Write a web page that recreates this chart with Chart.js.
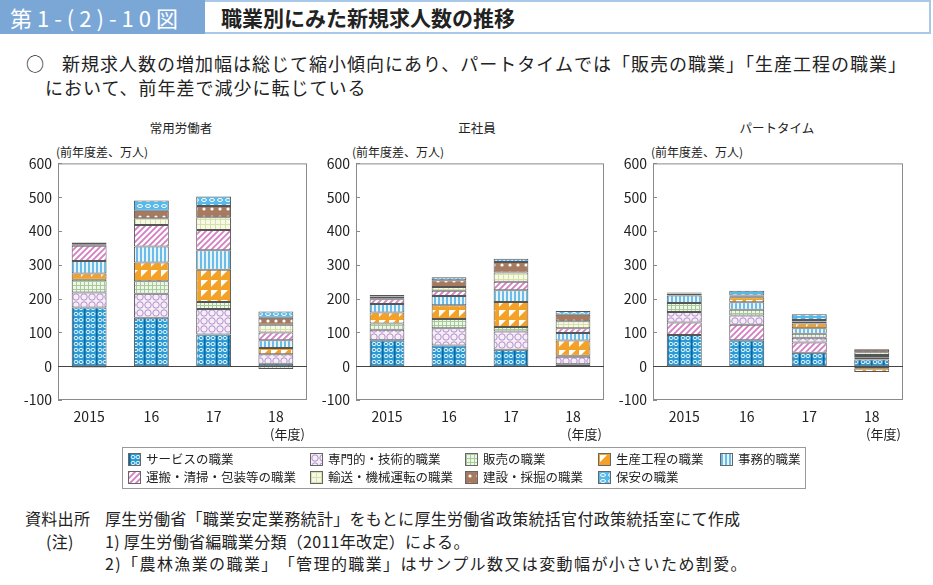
<!DOCTYPE html>
<html lang="ja">
<head>
<meta charset="utf-8">
<script src="https://cdn.jsdelivr.net/npm/chart.js@4"></script>
<style>
  body { margin: 0; width: 933px; height: 585px; background: #fff; position: relative; overflow: hidden;
         font-family: "Noto Sans CJK JP", "Noto Sans", sans-serif; color: #222; }
  .abs { position: absolute; white-space: nowrap; }
  #head-num { left: 0; top: 0; width: 205px; height: 34px; background: #7ba7d7; color: #fff;
              font-size: 22px; letter-spacing: 5px; line-height: 34px; padding-left: 10px; box-sizing: border-box; }
  #head-title { left: 205px; top: 0; width: 726px; height: 34px; border: 2px solid #a9c7e6; border-left: none;
                box-sizing: border-box; font-size: 21px; font-weight: bold; line-height: 30px; padding-left: 16px; }
  .lead { font-size: 18px; letter-spacing: 1px; }
  .ctitle { font-size: 12.5px; transform: translateX(-50%); }
  .unit { font-size: 12px; }
  .nendo { font-size: 13px; }
  #legend { left: 122px; top: 447px; width: 684px; height: 42px; border: 1px solid #9a9a9a; box-sizing: border-box; }
  .item { position: absolute; font-size: 12.5px; line-height: 14px; white-space: nowrap; }
  .sw { position: absolute; left: -18px; top: 1px; width: 11px; height: 11px; border: 1px solid #666; }
  .note { font-size: 16px; letter-spacing: 0.3px; text-spacing-trim: space-all; }
  canvas { position: absolute; }
</style>
</head>
<body>
<div class="abs" id="head-num">第1-(2)-10図</div>
<div class="abs" id="head-title">職業別にみた新規求人数の推移</div>
<div class="abs lead" style="left:26px; top:50px;">○</div>
<div class="abs lead" style="left:62px; top:50px;">新規求人数の増加幅は総じて縮小傾向にあり、パートタイムでは「販売の職業」「生産工程の職業」</div>
<div class="abs lead" style="left:45px; top:74px;">において、前年差で減少に転じている</div>

<div class="abs ctitle" style="left:181px; top:118px;">常用労働者</div>
<div class="abs ctitle" style="left:477px; top:118px;">正社員</div>
<div class="abs ctitle" style="left:777px; top:118px;">パートタイム</div>
<div class="abs unit" style="left:56px; top:143px;">(前年度差、万人)</div>
<div class="abs unit" style="left:352px; top:143px;">(前年度差、万人)</div>
<div class="abs unit" style="left:651px; top:143px;">(前年度差、万人)</div>

<canvas id="c1" width="315" height="291" style="left:0px; top:149px;"></canvas>
<canvas id="c2" width="315" height="291" style="left:298px; top:149px;"></canvas>
<canvas id="c3" width="315" height="291" style="left:595px; top:149px;"></canvas>

<div class="abs nendo" style="left:270px; top:424px;">(年度)</div>
<div class="abs nendo" style="left:567px; top:424px;">(年度)</div>
<div class="abs nendo" style="left:866px; top:424px;">(年度)</div>

<div class="abs" id="legend"></div>

<div class="abs note" style="left:25px; top:506px;">資料出所</div>
<div class="abs note" style="left:105px; top:506px;">厚生労働省「職業安定業務統計」をもとに厚生労働省政策統括官付政策統括室にて作成</div>
<div class="abs note" style="left:46px; top:529px;">(注)</div>
<div class="abs note" style="left:105px; top:529px;">1) 厚生労働省編職業分類（2011年改定）による。</div>
<div class="abs note" style="left:105px; top:551px; letter-spacing:1.4px;">2)「農林漁業の職業」「管理的職業」はサンプル数又は変動幅が小さいため割愛。</div>

<script>
const years = ['2015', '16', '17', '18'];
const occupations = ['サービスの職業', '専門的・技術的職業', '販売の職業', '生産工程の職業', '事務的職業',
                     '運搬・清掃・包装等の職業', '輸送・機械運転の職業', '建設・採掘の職業', '保安の職業'];

// rows follow the order of occupations, columns follow years (前年度差、万人)
const regularWorkers = [
    [174, 143, 94, 7],
    [44, 71, 75, 28],
    [38, 37, 21, -8],
    [18, 56, 95, 19],
    [37, 47, 58, 23],
    [45, 64, 60, 23],
    [5, 20, 38, 23],
    [-4, 22, 33, 20],
    [5, 30, 28, 19]
];
const fullTimeStaff = [
    [77, 61, 49, 6],
    [31, 51, 54, 22],
    [18, 28, 13, 3],
    [33, 40, 74, 45],
    [25, 28, 35, 22],
    [14, 15, 25, 14],
    [3, 11, 27, 21],
    [5, 20, 31, 19],
    [5, 9, 10, 11]
];
const partTimers = [
    [92, 77, 40, 20],
    [31, 27, 14, 5],
    [27, 17, 12, -6],
    [5, 15, 14, -11],
    [22, 22, 16, 3],
    [37, 46, 30, 5],
    [-2, 3, 6, 8],
    [2, 2, 5, 8],
    [2, 14, 17, 2]
];
// stacking order differs for the part-time panel
const standardOrder = [0, 1, 2, 3, 4, 5, 6, 7, 8];
const partTimeOrder = [0, 5, 1, 2, 4, 3, 6, 7, 8];

function tile(w, h, draw) {
    const c = document.createElement('canvas');
    c.width = w;
    c.height = h;
    draw(c.getContext('2d'), w, h);
    return c;
}

const tiles = [
    tile(12, 6, g => { // service
        g.fillStyle = '#2c9ad5'; g.fillRect(0, 0, 12, 6);
        g.strokeStyle = '#e8f6fd'; g.lineWidth = 1;
        g.beginPath(); g.ellipse(4, 3, 2, 1.6, 0, 0, Math.PI * 2); g.stroke();
        g.beginPath(); g.ellipse(9, 3, 2, 1.6, 0, 0, Math.PI * 2); g.stroke();
        g.fillStyle = '#0a69a2'; g.fillRect(0, 0, 1.5, 6);
    }),
    tile(8, 8, g => { // professional
        g.fillStyle = '#f4eef7'; g.fillRect(0, 0, 8, 8);
        g.strokeStyle = '#b68ccc'; g.lineWidth = 1;
        g.beginPath(); g.arc(4, 4, 3.2, 0, Math.PI * 2); g.stroke();
    }),
    tile(4, 4, g => { // sales
        g.fillStyle = '#eef6ea'; g.fillRect(0, 0, 4, 4);
        g.fillStyle = '#a6cb97'; g.fillRect(0, 0, 4, 1); g.fillRect(0, 0, 1, 4);
    }),
    tile(10, 10, g => { // production
        g.fillStyle = '#f4a227'; g.fillRect(0, 0, 10, 10);
        g.fillStyle = '#fff';
        g.beginPath(); g.moveTo(1, 1); g.lineTo(8, 1); g.lineTo(1, 8); g.closePath(); g.fill();
    }),
    tile(4, 4, g => { // clerical
        g.fillStyle = '#e7f4fb'; g.fillRect(0, 0, 4, 4);
        g.fillStyle = '#6bbce7'; g.fillRect(0, 0, 2, 4);
    }),
    tile(6, 6, g => { // carrying, cleaning
        g.fillStyle = '#fff'; g.fillRect(0, 0, 6, 6);
        g.strokeStyle = '#d57cc2'; g.lineWidth = 1.8;
        g.beginPath();
        g.moveTo(-1, 7); g.lineTo(7, -1);
        g.moveTo(-4, 4); g.lineTo(4, -4);
        g.moveTo(2, 10); g.lineTo(10, 2);
        g.stroke();
    }),
    tile(5, 5, g => { // transport
        g.fillStyle = '#f7f9e6'; g.fillRect(0, 0, 5, 5);
        g.fillStyle = '#d6e2a4'; g.fillRect(0, 0, 5, 1); g.fillRect(0, 0, 1, 5);
    }),
    tile(8, 8, g => { // construction
        g.fillStyle = '#a77a60'; g.fillRect(0, 0, 8, 8);
        g.fillStyle = '#fff';
        g.beginPath(); g.arc(4, 4, 1.6, 0, Math.PI * 2); g.fill();
    }),
    tile(8, 6, g => { // security
        g.fillStyle = '#55b9ea'; g.fillRect(0, 0, 8, 6);
        g.strokeStyle = '#fff'; g.lineWidth = 1;
        g.beginPath(); g.ellipse(4, 3, 2.5, 1.5, 0, 0, Math.PI * 2); g.stroke();
    })
];

const patCtx = document.createElement('canvas').getContext('2d');
const patterns = tiles.map(t => patCtx.createPattern(t, 'repeat'));

// legend
const legend = document.getElementById('legend');
const legendX = [23, 205, 360, 493, 615];
const legendY = [4, 22];
occupations.forEach((name, i) => {
    const item = document.createElement('div');
    item.className = 'item';
    const row = i < 5 ? 0 : 1;
    const col = i < 5 ? i : i - 5;
    item.style.left = legendX[col] + 'px';
    item.style.top = legendY[row] + 'px';
    const sw = document.createElement('span');
    sw.className = 'sw';
    sw.style.backgroundImage = 'url(' + tiles[i].toDataURL() + ')';
    item.appendChild(sw);
    item.appendChild(document.createTextNode(name));
    legend.appendChild(item);
});

const framePlugin = {
    id: 'frame',
    beforeDatasetsDraw(chart) {
        const { ctx, chartArea: a, scales: { y } } = chart;
        ctx.save();
        ctx.strokeStyle = '#8a8a8a';
        ctx.lineWidth = 1;
        ctx.strokeRect(a.left + 0.5, a.top + 0.5, a.right - a.left - 1, a.bottom - a.top - 1);
        y.ticks.forEach(t => {
            const py = Math.round(y.getPixelForValue(t.value)) + 0.5;
            ctx.beginPath();
            ctx.moveTo(a.left, py);
            ctx.lineTo(a.left + 4, py);
            ctx.stroke();
        });
        const zy = Math.round(y.getPixelForValue(0)) + 0.5;
        ctx.strokeStyle = '#444';
        ctx.beginPath();
        ctx.moveTo(a.left, zy);
        ctx.lineTo(a.right, zy);
        ctx.stroke();
        ctx.restore();
    }
};

function makeChart(id, values, order, padRight) {
    const datasets = order.map(i => ({
        label: occupations[i],
        data: values[i],
        backgroundColor: patterns[i],
        borderColor: '#555',
        borderWidth: 1,
        borderSkipped: false,
        categoryPercentage: 0.8,
        barPercentage: 0.7
    }));
    return new Chart(document.getElementById(id), {
        type: 'bar',
        data: { labels: years, datasets: datasets },
        options: {
            responsive: false,
            animation: false,
            layout: { padding: { top: 0, right: padRight, left: 0, bottom: 0 } },
            plugins: { legend: { display: false }, tooltip: { enabled: false } },
            scales: {
                x: {
                    stacked: true,
                    grid: { display: false },
                    border: { display: false },
                    ticks: { color: '#222', font: { size: 14, family: 'Noto Sans CJK JP' }, padding: 0 },
                    afterFit: s => { s.height = 40; }
                },
                y: {
                    stacked: true,
                    min: -100,
                    max: 600,
                    grid: { display: false, drawTicks: false },
                    border: { display: false },
                    ticks: { stepSize: 100, color: '#222', font: { size: 14, family: 'Noto Sans CJK JP' }, padding: 6 },
                    afterFit: s => { s.width = 58; }
                }
            }
        },
        plugins: [framePlugin]
    });
}

makeChart('c1', regularWorkers, standardOrder, 8);
makeChart('c2', fullTimeStaff, standardOrder, 9);
makeChart('c3', partTimers, partTimeOrder, 7);
</script>
</body>
</html>
